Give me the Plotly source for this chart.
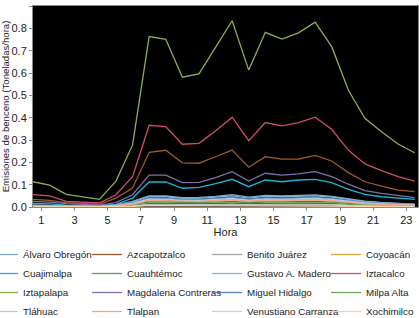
import plotly.graph_objects as go

hours = list(range(1, 25))

delegaciones = ["Álvaro Obregón", "Azcapotzalco", "Benito Juárez", "Coyoacán",
                "Cuajimalpa", "Cuauhtémoc", "Gustavo A. Madero", "Iztacalco",
                "Iztapalapa", "Magdalena Contreras", "Miguel Hidalgo", "Milpa Alta",
                "Tláhuac", "Tlalpan", "Venustiano Carranza", "Xochimilco"]

alvaro_obregon = [0.008, 0.007, 0.004, 0.003, 0.003, 0.010, 0.025, 0.050, 0.050, 0.042, 0.043, 0.048,
                  0.055, 0.044, 0.052, 0.050, 0.052, 0.054, 0.048, 0.036, 0.026, 0.020, 0.016, 0.013]
azcapotzalco = [0.034, 0.030, 0.020, 0.015, 0.012, 0.040, 0.085, 0.245, 0.254, 0.198, 0.196, 0.225,
                0.255, 0.178, 0.225, 0.214, 0.215, 0.231, 0.206, 0.154, 0.113, 0.094, 0.076, 0.069]
benito_juarez = [0.002, 0.002, 0.001, 0.001, 0.001, 0.003, 0.006, 0.013, 0.013, 0.011, 0.011, 0.012,
                 0.014, 0.011, 0.013, 0.013, 0.013, 0.014, 0.012, 0.009, 0.007, 0.005, 0.004, 0.003]
coyoacan = [0.005, 0.004, 0.002, 0.002, 0.002, 0.006, 0.015, 0.033, 0.033, 0.028, 0.028, 0.031,
            0.035, 0.028, 0.033, 0.032, 0.034, 0.035, 0.031, 0.023, 0.017, 0.013, 0.010, 0.008]
cuajimalpa = [0.016, 0.014, 0.008, 0.006, 0.005, 0.012, 0.040, 0.112, 0.112, 0.084, 0.088, 0.105,
              0.124, 0.091, 0.121, 0.113, 0.121, 0.124, 0.109, 0.079, 0.057, 0.046, 0.039, 0.034]
cuauhtemoc = [0.004, 0.003, 0.002, 0.001, 0.001, 0.005, 0.011, 0.026, 0.025, 0.021, 0.022, 0.024,
              0.027, 0.022, 0.026, 0.025, 0.026, 0.027, 0.024, 0.018, 0.013, 0.010, 0.008, 0.006]
gustavo_a_madero = [0.007, 0.006, 0.004, 0.003, 0.003, 0.009, 0.022, 0.046, 0.046, 0.038, 0.039, 0.044,
                    0.050, 0.040, 0.048, 0.046, 0.048, 0.050, 0.044, 0.033, 0.024, 0.019, 0.015, 0.012]
iztacalco = [0.055, 0.050, 0.025, 0.020, 0.018, 0.055, 0.136, 0.366, 0.360, 0.281, 0.285, 0.340,
             0.402, 0.297, 0.378, 0.363, 0.378, 0.402, 0.348, 0.255, 0.193, 0.163, 0.136, 0.116]
iztapalapa = [0.113, 0.098, 0.057, 0.045, 0.034, 0.116, 0.278, 0.763, 0.751, 0.581, 0.596, 0.715,
              0.834, 0.613, 0.782, 0.752, 0.780, 0.828, 0.718, 0.524, 0.397, 0.337, 0.282, 0.243]
magdalena_contreras = [0.025, 0.022, 0.015, 0.010, 0.008, 0.020, 0.055, 0.143, 0.143, 0.109, 0.110, 0.132,
                       0.158, 0.116, 0.151, 0.143, 0.148, 0.158, 0.136, 0.102, 0.073, 0.061, 0.051, 0.042]
miguel_hidalgo = [0.006, 0.005, 0.003, 0.002, 0.002, 0.008, 0.019, 0.040, 0.040, 0.034, 0.034, 0.038,
                  0.043, 0.035, 0.041, 0.040, 0.041, 0.043, 0.038, 0.029, 0.021, 0.016, 0.013, 0.010]
milpa_alta = [0.003, 0.003, 0.002, 0.001, 0.001, 0.004, 0.009, 0.020, 0.020, 0.017, 0.017, 0.019,
              0.021, 0.017, 0.020, 0.019, 0.020, 0.021, 0.019, 0.014, 0.010, 0.008, 0.006, 0.005]
tlahuac = [0.005, 0.004, 0.003, 0.002, 0.002, 0.007, 0.016, 0.036, 0.035, 0.030, 0.030, 0.034,
           0.038, 0.031, 0.036, 0.035, 0.037, 0.038, 0.034, 0.026, 0.018, 0.014, 0.011, 0.009]
tlalpan = [0.004, 0.004, 0.002, 0.002, 0.002, 0.006, 0.013, 0.030, 0.029, 0.025, 0.025, 0.028,
           0.031, 0.025, 0.030, 0.029, 0.030, 0.031, 0.028, 0.021, 0.015, 0.012, 0.009, 0.007]
venustiano_carranza = [0.002, 0.002, 0.001, 0.001, 0.001, 0.002, 0.004, 0.009, 0.009, 0.008, 0.008, 0.009,
                       0.010, 0.008, 0.009, 0.009, 0.009, 0.010, 0.009, 0.006, 0.005, 0.004, 0.003, 0.002]
xochimilco = [0.001, 0.001, 0.001, 0.000, 0.000, 0.001, 0.003, 0.006, 0.006, 0.005, 0.005, 0.006,
              0.006, 0.005, 0.006, 0.006, 0.006, 0.006, 0.006, 0.004, 0.003, 0.002, 0.002, 0.001]

series = [alvaro_obregon, azcapotzalco, benito_juarez, coyoacan, cuajimalpa, cuauhtemoc,
          gustavo_a_madero, iztacalco, iztapalapa, magdalena_contreras, miguel_hidalgo,
          milpa_alta, tlahuac, tlalpan, venustiano_carranza, xochimilco]

colors = ["#7fa6c9", "#9c5a2c", "#a6a6a6", "#d9a840", "#1ab4d6", "#5a9e55",
          "#78b8e4", "#d24c6c", "#8cb04e", "#8070aa", "#5b80bf", "#70ac5e",
          "#b2cde8", "#f2a98a", "#cfcfcf", "#f6d2a6"]

tick_labels = [str(h) for h in hours[::2]]
tick_pos = [h + 0.5 for h in hours[::2]]

legend_ids = ["legend", "legend2", "legend3", "legend4"]

fig = go.Figure()
for i, (name, vals, col) in enumerate(zip(delegaciones, series, colors)):
    fig.add_trace(go.Scatter(x=hours, y=vals, mode="lines", name=name,
                             line=dict(color=col, width=1.3),
                             legend=legend_ids[i % 4]))

font_family = "Liberation Sans, Arial, sans-serif"
# legend left edges in pixels; plot area spans x 33..418, y 6..207
legend_x_px = [-17, 87, 207, 326]
legend_common = dict(orientation="v", xref="paper", yref="paper",
                     xanchor="left", y=(207 - 240) / 201, yanchor="top",
                     font=dict(size=9.8, color="#222"), itemwidth=30,
                     tracegroupgap=0, bgcolor="rgba(0,0,0,0)")
legends = {}
for lid, px in zip(legend_ids, legend_x_px):
    legends[lid] = dict(legend_common, x=(px - 33) / 385)

fig.update_layout(
    width=419, height=318,
    margin=dict(l=33, r=1, t=6, b=111, autoexpand=False),
    paper_bgcolor="white", plot_bgcolor="black",
    font=dict(family=font_family, size=11, color="#222"),
    showlegend=True,
    xaxis=dict(range=[1, 24.2], tickmode="array", tickvals=tick_pos, ticktext=tick_labels,
               showgrid=False, zeroline=False, showline=True, linecolor="#888", mirror=True,
               ticks="outside", ticklen=3, tickcolor="#888",
               title=dict(text="Hora", font=dict(size=11), standoff=3),
               tickfont=dict(size=11)),
    yaxis=dict(range=[0, 0.9], dtick=0.1, tickformat=".1f", showgrid=False, zeroline=False,
               showline=True, linecolor="#888", mirror=True, ticks="outside", ticklen=3,
               tickcolor="#888",
               title=dict(text="Emisiones de benceno (Toneladas/hora)", font=dict(size=9.6),
                          standoff=3),
               tickfont=dict(size=11)),
    **legends,
)

fig.write_html("out.html",
               config={"displayModeBar": False},
               post_script="document.body.style.margin='0';document.body.style.overflow='hidden';")
